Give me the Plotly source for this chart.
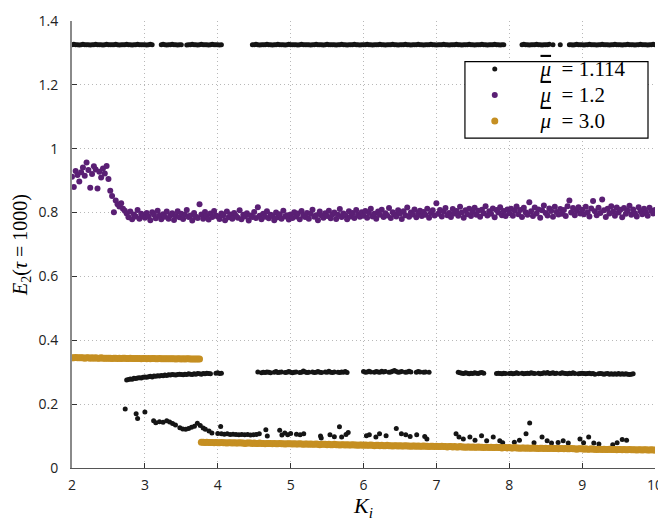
import numpy as np
import plotly.graph_objects as go

N = None

# ── K_i sampling grid (step 0.025, 2 .. 10) ──
k_grid = np.round(np.arange(2.0, 10.0001, 0.025), 3).tolist()

# ── mu = 1.2 (purple) ──
e2_mu12 = [
    0.912, 0.880, 0.930, 0.918, 0.897, 0.926, 0.941, 0.915, 0.957, 0.933,
    0.878, 0.921, 0.945, 0.935, 0.875, 0.928, 0.910, 0.938, 0.922, 0.946,
    0.905, 0.868, 0.852, 0.801, 0.838, 0.826, 0.819, 0.829, 0.812, 0.806,
    0.797, 0.785, 0.803, 0.779, 0.794, 0.788, 0.808, 0.781, 0.796, 0.790,
    0.784, 0.799, 0.788, 0.776, 0.801, 0.793, 0.782, 0.806, 0.790, 0.779,
    0.795, 0.787, 0.803, 0.781, 0.792, 0.798, 0.777, 0.789, 0.804, 0.785,
    0.796, 0.780, 0.793, 0.808, 0.786, 0.791, 0.775, 0.799, 0.787, 0.783,
    0.826, 0.794, 0.781, 0.802, 0.789, 0.778, 0.797, 0.786, 0.805, 0.791,
    0.788, 0.780, 0.797, 0.792, 0.776, 0.803, 0.785, 0.794, 0.781, 0.799,
    0.790, 0.784, 0.807, 0.779, 0.793, 0.788, 0.798, 0.775, 0.791, 0.786,
    0.802, 0.783, 0.817, 0.790, 0.779, 0.796, 0.787, 0.804, 0.782, 0.793,
    0.789, 0.776, 0.800, 0.785, 0.795, 0.781, 0.806, 0.788, 0.792, 0.778,
    0.794, 0.783, 0.801, 0.788, 0.797, 0.779, 0.805, 0.790, 0.786, 0.799,
    0.781, 0.796, 0.809, 0.787, 0.792, 0.776, 0.803, 0.791, 0.784, 0.798,
    0.789, 0.806, 0.782, 0.795, 0.800, 0.780, 0.793, 0.811, 0.786, 0.797,
    0.791, 0.779, 0.804, 0.788, 0.799, 0.783, 0.808, 0.794, 0.787, 0.801,
    0.790, 0.805, 0.784, 0.799, 0.812, 0.788, 0.796, 0.781, 0.803, 0.793,
    0.809, 0.786, 0.798, 0.791, 0.814, 0.783, 0.801, 0.795, 0.788, 0.807,
    0.797, 0.780, 0.804, 0.792, 0.816, 0.787, 0.800, 0.794, 0.810, 0.785,
    0.798, 0.806, 0.789, 0.802, 0.793, 0.812, 0.784, 0.799, 0.807, 0.791,
    0.829, 0.796, 0.808, 0.788, 0.803, 0.814, 0.792, 0.799, 0.786, 0.811,
    0.797, 0.805, 0.790, 0.818, 0.800, 0.784, 0.807, 0.795, 0.812, 0.789,
    0.802, 0.815, 0.793, 0.806, 0.787, 0.809, 0.798, 0.820, 0.791, 0.804,
    0.796, 0.813, 0.785, 0.808, 0.800, 0.817, 0.792, 0.805, 0.789, 0.810,
    0.798, 0.812, 0.790, 0.806, 0.819, 0.795, 0.808, 0.786, 0.815, 0.801,
    0.793, 0.832, 0.804, 0.789, 0.816, 0.797, 0.810, 0.784, 0.807, 0.822,
    0.799, 0.791, 0.813, 0.805, 0.787, 0.818, 0.802, 0.794, 0.811, 0.796,
    0.808, 0.789, 0.820, 0.838, 0.800, 0.814, 0.792, 0.806, 0.817, 0.797,
    0.809, 0.795, 0.818, 0.801, 0.788, 0.813, 0.836, 0.804, 0.792, 0.815,
    0.799, 0.841, 0.807, 0.786, 0.812, 0.797, 0.820, 0.803, 0.790, 0.816,
    0.800, 0.809, 0.785, 0.814, 0.796, 0.806, 0.821, 0.793, 0.810, 0.798,
    0.788, 0.817, 0.804, 0.795, 0.812, 0.801, 0.790, 0.815, 0.806, 0.797,
    0.808,
]

# ── mu = 3.0 (gold) ──
e2_mu30 = [
    0.345, 0.345, 0.346, 0.345, 0.345, 0.345, 0.345, 0.344, 0.345, 0.345,
    0.344, 0.345, 0.344, 0.345, 0.344, 0.344, 0.345, 0.344, 0.344, 0.344,
    0.344, 0.344, 0.343, 0.344, 0.344, 0.343, 0.344, 0.343, 0.344, 0.344,
    0.343, 0.343, 0.344, 0.343, 0.343, 0.343, 0.343, 0.343, 0.342, 0.343,
    0.343, 0.342, 0.343, 0.342, 0.343, 0.343, 0.342, 0.342, 0.343, 0.342,
    0.342, 0.342, 0.342, 0.342, 0.342, 0.342, 0.342, 0.341, 0.342, 0.342,
    0.341, 0.342, 0.341, 0.342, 0.342, 0.341, 0.341, 0.341, 0.341, 0.341,
    0.341,
    0.081, 0.081, 0.080, 0.081, 0.080, 0.080, 0.080, 0.079, 0.080,
    0.079, 0.079, 0.080, 0.079, 0.079, 0.078, 0.079, 0.079, 0.078, 0.079,
    0.078, 0.078, 0.079, 0.078, 0.078, 0.077, 0.078, 0.078, 0.078, 0.077,
    0.078, 0.077, 0.077, 0.078, 0.077, 0.077, 0.076, 0.077, 0.077, 0.077,
    0.076, 0.077, 0.076, 0.076, 0.077, 0.076, 0.076, 0.075, 0.076, 0.076,
    0.076, 0.075, 0.076, 0.075, 0.075, 0.076, 0.075, 0.074, 0.075, 0.075,
    0.074, 0.075, 0.074, 0.074, 0.075, 0.074, 0.073, 0.074, 0.074, 0.074,
    0.073, 0.074, 0.073, 0.073, 0.074, 0.073, 0.073, 0.072, 0.073, 0.073,
    0.072, 0.073, 0.072, 0.072, 0.073, 0.072, 0.072, 0.071, 0.072, 0.072,
    0.071, 0.072, 0.071, 0.071, 0.072, 0.071, 0.070, 0.071, 0.071, 0.070,
    0.071, 0.070, 0.070, 0.071, 0.070, 0.070, 0.069, 0.070, 0.070, 0.069,
    0.070, 0.069, 0.069, 0.070, 0.069, 0.069, 0.068, 0.069, 0.069, 0.068,
    0.069, 0.068, 0.068, 0.069, 0.068, 0.068, 0.067, 0.068, 0.068, 0.067,
    0.068, 0.067, 0.067, 0.068, 0.067, 0.067, 0.066, 0.067, 0.067, 0.066,
    0.067, 0.066, 0.066, 0.067, 0.066, 0.066, 0.065, 0.066, 0.066, 0.065,
    0.066, 0.065, 0.065, 0.066, 0.065, 0.065, 0.064, 0.065, 0.065, 0.064,
    0.065, 0.064, 0.064, 0.065, 0.064, 0.064, 0.063, 0.064, 0.064, 0.063,
    0.064, 0.063, 0.063, 0.064, 0.063, 0.063, 0.062, 0.063, 0.063, 0.062,
    0.063, 0.062, 0.062, 0.063, 0.062, 0.062, 0.061, 0.062, 0.062, 0.061,
    0.062, 0.061, 0.061, 0.062, 0.061, 0.061, 0.061, 0.060, 0.061, 0.061,
    0.060, 0.061, 0.060, 0.060, 0.061, 0.060, 0.060, 0.059, 0.060, 0.060,
    0.060, 0.059, 0.060, 0.059, 0.059, 0.060, 0.059, 0.059, 0.058, 0.059,
    0.059, 0.058, 0.059, 0.058, 0.058, 0.059, 0.058, 0.058, 0.058, 0.057,
    0.058, 0.058, 0.057, 0.058, 0.057, 0.057, 0.058, 0.057, 0.057, 0.057,
    0.056, 0.057, 0.057, 0.056, 0.057, 0.057, 0.056, 0.056, 0.057, 0.056,
    0.056,
]

# ── mu = 1.114 (black): upper branch, middle branch on the grid ──
e2_mu1114_top = [
    1.326, 1.327, 1.326, 1.326, 1.325, 1.326, 1.327, 1.326, 1.326, 1.326,
    1.325, 1.326, 1.326, 1.327, 1.326, 1.326, 1.326, 1.325, 1.326, 1.327,
    1.326, 1.326, 1.326, 1.326, 1.327, 1.326, 1.325, 1.326, 1.326, 1.326,
    1.327, 1.326, 1.326, 1.325, 1.326, 1.326, 1.327, 1.326, 1.326, 1.326,
    1.326, 1.325, 1.326, 1.327, 1.326,
    N, N, N, N,
    1.326, 1.327, 1.326, 1.325, 1.326, 1.326, 1.327, 1.326, 1.326, 1.325,
    1.326, 1.326,
    N, N,
    1.325, 1.326, 1.326, 1.327, 1.326, 1.326, 1.325, 1.326, 1.327, 1.326,
    1.326, 1.326, 1.325, 1.326, 1.327, 1.326, 1.326, 1.326, 1.325, 1.326,
    N, N, N, N, N, N, N, N, N, N, N, N, N, N, N, N,
    1.326, 1.326, 1.327, 1.326, 1.325, 1.326, 1.326, 1.326, 1.327, 1.326,
    1.326, 1.325, 1.326, 1.326, 1.327, 1.326, 1.326, 1.326, 1.325, 1.326,
    1.327, 1.326, 1.326, 1.326, 1.326, 1.325, 1.326, 1.327, 1.326, 1.326,
    1.326, 1.326, 1.325, 1.326, 1.326, 1.327, 1.326, 1.326, 1.326, 1.325,
    1.326, 1.327, 1.326, 1.326, 1.326, 1.326, 1.325, 1.326, 1.326, 1.327,
    1.326, 1.326, 1.325, 1.326, 1.326, 1.326, 1.327, 1.326, 1.326, 1.325,
    1.326, 1.326, 1.326, 1.327, 1.326, 1.326, 1.325, 1.326, 1.326, 1.326,
    1.327, 1.326, 1.326, 1.325, 1.326, 1.326, 1.326, 1.327, 1.326, 1.326,
    1.325, 1.326, 1.326, 1.326, 1.327, 1.326, 1.326, 1.325, 1.326, 1.326,
    1.326, 1.327, 1.326, 1.326, 1.325, 1.326, 1.326, 1.326, 1.327, 1.326,
    1.326, 1.325, 1.326, 1.326, 1.326, 1.327, 1.326, 1.326, 1.325, 1.326,
    1.326, 1.326, 1.327, 1.326, 1.326, 1.325, 1.326, 1.326, 1.326, 1.327,
    1.326, 1.326, 1.325, 1.326, 1.326, 1.326, 1.327, 1.326, 1.326, 1.325,
    1.326, 1.326, 1.326, 1.327, 1.326, 1.326, 1.325, 1.326, 1.326,
    N, N, N, N, N, N, N, N, N,
    1.326, 1.327, 1.326, 1.326, 1.325, 1.326, 1.326, 1.326, 1.327, 1.326,
    1.326, 1.325, 1.326, 1.326, 1.326, 1.327,
    N, 1.326, N, N, N, 1.326, N, N, N, N,
    1.326, 1.326, 1.325, 1.326, 1.327, 1.326, 1.326, 1.326, 1.325, 1.326,
    1.326, 1.327, 1.326, 1.326, 1.326, 1.325, 1.326, 1.326, 1.327, 1.326,
    1.326, 1.326, 1.325, 1.326, 1.326, 1.327, 1.326, 1.326, 1.326, 1.325,
    1.326, 1.326, 1.327, 1.326, 1.326, 1.326, 1.325, 1.326, 1.326, 1.327,
    1.326, 1.326, 1.326, 1.325, 1.326, 1.326, 1.327, 1.326,
]

e2_mu1114_mid = [
    N, N, N, N, N, N, N, N, N, N, N, N, N, N, N,
    N, N, N, N, N, N, N, N, N, N, N, N, N, N, N,
    0.276, 0.277, 0.279, 0.278, 0.281, 0.280, 0.282, 0.283, 0.282, 0.284,
    0.285, 0.284, 0.286, 0.287, 0.285, 0.288, 0.287, 0.289, 0.288, 0.290,
    0.289, 0.291, 0.290, 0.292, 0.291, 0.293, 0.292, 0.291, 0.293, 0.294,
    0.293, 0.292, 0.294, 0.293, 0.295, 0.294, 0.293, 0.295, 0.294, 0.296,
    0.295, 0.294, 0.296, 0.295, 0.297, 0.296, 0.295, N, N, 0.297,
    0.298, 0.296, 0.297,
    N, N, N, N, N, N, N, N, N, N, N, N, N, N, N, N, N, N, N,
    0.301, N, 0.298, 0.300, 0.299, 0.301, 0.300, 0.298, N, 0.300,
    0.302, 0.299, 0.300, 0.301, N, 0.299, 0.300, 0.302, 0.300, 0.298,
    0.300, 0.301, N, 0.299, 0.300, 0.304, 0.301, 0.299, 0.300, N,
    0.301, 0.299, 0.300, 0.302, 0.300, 0.299, N, 0.301, 0.300, 0.303,
    0.300, 0.299, 0.301, N, 0.300, 0.299, 0.301, 0.300, 0.302, 0.299,
    N, N, N, N, N, N, N, N,
    0.302, 0.300, 0.301, 0.303, 0.301, N, 0.300, 0.302, 0.301, 0.300,
    0.303, 0.301, 0.302, N, 0.300, 0.301, 0.303, 0.305, 0.302, 0.300,
    0.301, 0.302, N, 0.300, 0.301, 0.303, 0.301, N, N, 0.300,
    0.302, 0.301, N, 0.300, 0.301, N, 0.300,
    N, N, N, N, N, N, N, N, N, N, N, N, N, N, N,
    0.300, 0.298, 0.297, 0.296, 0.298, 0.297, 0.295, 0.297, 0.296, 0.298,
    0.297, 0.296, 0.298, 0.299, 0.297,
    N, N, N, N, N, N,
    0.296, 0.297, 0.296, 0.295, 0.297, 0.296, N, 0.296, 0.297, 0.295,
    0.296, 0.298, 0.296, N, 0.297, 0.295, 0.296, 0.297, 0.296, 0.298,
    0.297, 0.296, N, 0.297, 0.295, 0.296, 0.298, 0.297, 0.299, 0.296,
    0.297, 0.298, 0.296, 0.297, N, 0.296, 0.298, 0.297, 0.296, 0.295,
    0.297, 0.296, 0.298, 0.296, N, 0.295, 0.296, 0.297, 0.296, 0.295,
    0.296, 0.297, 0.295, 0.296, 0.294, N, 0.295, 0.296, 0.295, 0.294,
    0.295, 0.296, 0.294, 0.295, 0.294, 0.295, 0.294, 0.296, 0.294, 0.295,
    0.294, 0.295, 0.294, 0.293, 0.294, 0.295,
    N, N, N, N, N, N, N, N, N, N, N, N,
]

# ── mu = 1.114 (black): scattered lower branch ──
k_low = [
    2.73, 2.88, 2.90, 3.00, 3.12, 3.15, 3.20, 3.25, 3.30, 3.34, 3.38, 3.42,
    3.48, 3.52, 3.56, 3.60, 3.64, 3.68, 3.72, 3.76, 3.80, 3.83, 3.88, 3.92,
    4.04, 4.00, 4.05, 4.09, 4.13, 4.17, 4.21, 4.25, 4.29, 4.33, 4.37, 4.41,
    4.45, 4.49, 4.53, 4.57, 4.66, 4.68, 4.85, 4.88, 4.92, 4.96, 5.00, 5.08,
    5.13, 5.18, 5.41, 5.42, 5.54, 5.60, 5.67, 5.70, 5.76, 5.79,
    6.04, 6.08, 6.17, 6.22, 6.31, 6.45, 6.52, 6.58, 6.64, 6.73, 6.84, 6.87,
    7.27, 7.31, 7.37, 7.46, 7.53, 7.62, 7.69, 7.78, 7.87, 7.91,
    8.07, 8.14, 8.23, 8.28, 8.34, 8.45, 8.52, 8.58, 8.67, 8.74, 8.81,
    8.97, 9.02, 9.09, 9.16, 9.23, 9.42, 9.48, 9.55, 9.61,
]
e2_low = [
    0.185, 0.170, 0.155, 0.175, 0.148, 0.142, 0.145, 0.143, 0.148, 0.144, 0.139, 0.135,
    0.126, 0.122, 0.121, 0.124, 0.128, 0.131, 0.140, 0.133, 0.125, 0.121, 0.116, 0.110,
    0.130, 0.108, 0.107, 0.106, 0.107, 0.105, 0.106, 0.105, 0.104, 0.105, 0.104, 0.105,
    0.103, 0.104, 0.105, 0.107, 0.120, 0.100, 0.118, 0.103, 0.110, 0.104, 0.108, 0.106,
    0.104, 0.107, 0.100, 0.094, 0.104, 0.098, 0.129, 0.097, 0.105, 0.111,
    0.101, 0.104, 0.097, 0.107, 0.101, 0.124, 0.107, 0.104, 0.099, 0.104, 0.099, 0.091,
    0.107, 0.097, 0.091, 0.097, 0.087, 0.101, 0.085, 0.097, 0.085, 0.079,
    0.081, 0.087, 0.107, 0.141, 0.079, 0.097, 0.085, 0.078, 0.080, 0.085, 0.078,
    0.091, 0.079, 0.097, 0.078, 0.075, 0.073, 0.079, 0.089, 0.087,
]

for arr in (e2_mu12, e2_mu30, e2_mu1114_top, e2_mu1114_mid):
    assert len(arr) == len(k_grid), len(arr)
assert len(k_low) == len(e2_low)

BLACK = '#151515'
PURPLE = '#5a1f74'
GOLD = '#c58f22'

def label(v):
    # mu with an overbar, TeX-like spacing, bigger than the row height font
    return ('<span style="font-size:21px">\u2002\u2009'
            '<span style="text-decoration:overline"><i>μ</i></span>'
            '\u2002= ' + v + '</span>')

fig = go.Figure()

fig.add_trace(go.Scatter(
    x=k_grid + k_grid + k_low,
    y=e2_mu1114_top + e2_mu1114_mid + e2_low,
    mode='markers', name=label('1.114'),
    marker=dict(color=BLACK, size=5, line=dict(width=0)),
))
fig.add_trace(go.Scatter(
    x=k_grid, y=e2_mu12,
    mode='markers', name=label('1.2'),
    marker=dict(color=PURPLE, size=6, line=dict(width=0)),
))
fig.add_trace(go.Scatter(
    x=k_grid, y=e2_mu30,
    mode='markers', name=label('3.0'),
    marker=dict(color=GOLD, size=7, line=dict(width=0)),
))

tick_font = dict(family='Open Sans', size=14, color='#222')
serif = 'Liberation Serif'

# legend frame (drawn as a shape so the rows can sit tight)
fig.add_shape(
    type='rect', xref='paper', yref='paper',
    x0=0.674, x1=0.988, y0=0.738, y1=0.909,
    line=dict(color='black', width=1.2), fillcolor='white', layer='above',
)

# page body has an 8px margin, so the figure is sized to fit inside the window
fig.update_layout(
    width=658, height=513,
    margin=dict(l=64, r=8, t=3, b=48),
    paper_bgcolor='white', plot_bgcolor='white',
    showlegend=True,
    legend=dict(
        x=0.672, y=0.933, xanchor='left', yanchor='top',
        bgcolor='rgba(0,0,0,0)', borderwidth=0,
        font=dict(family=serif, size=17.7, color='black'),
        itemwidth=52, tracegroupgap=0,
    ),
)

fig.update_xaxes(
    range=[2, 10], dtick=1, tick0=2,
    showgrid=True, gridcolor='#b8b8b8', griddash='1px,3px', gridwidth=1,
    showline=True, linecolor='#555', linewidth=1,
    ticks='inside', ticklen=5, tickcolor='#333',
    zeroline=False, tickfont=tick_font, ticklabelstandoff=4,
    ticklabeloverflow='allow',
    title=dict(text='<i>K<sub>i</sub></i>', font=dict(family=serif, size=22, color='black'),
               standoff=9),
)
fig.update_yaxes(
    range=[0, 1.4], dtick=0.2, tick0=0,
    showgrid=True, gridcolor='#b8b8b8', griddash='1px,3px', gridwidth=1,
    showline=True, linecolor='#8a8a8a', linewidth=2,
    ticks='inside', ticklen=5, tickcolor='#333',
    zeroline=False, tickfont=tick_font, ticklabelstandoff=9,
    ticklabeloverflow='allow',
    title=dict(text='<i>E</i><sub>2</sub>(<i>τ</i> = 1000)',
               font=dict(family=serif, size=20, color='black'), standoff=6),
)

fig.write_html("out.html")
